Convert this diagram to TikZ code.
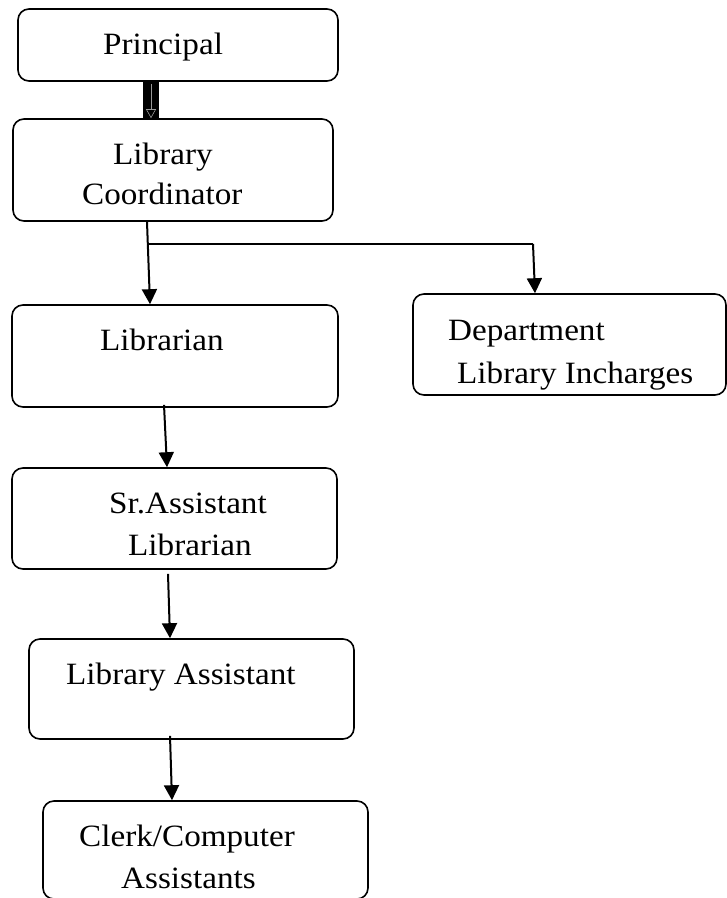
\documentclass[tikz,border=0pt]{standalone}
\usepackage{fontspec}
\setmainfont{Liberation Serif}[FakeStretch=1.07]
\usetikzlibrary{arrows.meta}
\begin{document}
\begin{tikzpicture}[x=1pt,y=-1pt,
  box/.style={draw, line width=1.6pt, rounded corners=11pt, inner sep=0pt},
  lbl/.style={anchor=base west, inner sep=0pt, font=\fontsize{31}{36}\selectfont},
  arr/.style={line width=2pt, -{Triangle[length=15pt,width=15pt]}},
  plain/.style={line width=2pt}]
\useasboundingbox (0,0) rectangle (727,898);
\fill[white] (0,0) rectangle (727,898);
% boxes
\node[box, minimum width=320pt, minimum height=72pt] (pr) at (178,45) {};
\node[box, minimum width=320pt, minimum height=102pt] (co) at (173,170) {};
\node[box, minimum width=326pt, minimum height=102pt] (li) at (175,356) {};
\node[box, minimum width=313pt, minimum height=101pt] (de) at (569.5,344.5) {};
\node[box, minimum width=325pt, minimum height=101pt] (sr) at (174.5,518.5) {};
\node[box, minimum width=325pt, minimum height=100pt] (la) at (191.5,689) {};
\node[box, minimum width=325pt, minimum height=98pt] (cl) at (205.5,850) {};
% texts
\node[lbl] (t1) at (103,54) {Principal};
\node[lbl] (t2) at (113,164) {Library};
\node[lbl] (t3) at (82,204) {Coordinator};
\node[lbl] (t4) at (100,350) {Librarian};
\node[lbl] (t5) at (448,340) {Department};
\node[lbl] (t6) at (457,383) {Library Incharges};
\node[lbl] (t7) at (109,513) {Sr.Assistant};
\node[lbl] (t8) at (128,555) {Librarian};
\node[lbl] (t9) at (66,684) {Library Assistant};
\node[lbl] (t10) at (79,846) {Clerk/Computer};
\node[lbl] (t11) at (121,888) {Assistants};
% thick connector principal -> coordinator
\draw[line width=16pt] ([xshift=-27pt]pr.south) -- ([xshift=-22pt]co.north);
\draw[white!60!black, line width=0.6pt, -{Triangle[open,length=9pt,width=10pt]}]
  ([xshift=-27pt,yshift=-2pt]pr.south) -- ([xshift=-22pt]co.north);
% branch
\coordinate (b1) at (149,244);
\coordinate (b2) at (533,244);
\draw[arr] ([xshift=-26pt]co.south) -- ([xshift=-25pt]li.north);
\draw[plain] (b1) -- (b2);
\draw[arr] (b2) -- ([xshift=-34.5pt]de.north);
\draw[arr] ([xshift=-11pt,yshift=3pt]li.south) -- ([xshift=-7.5pt]sr.north);
\draw[arr] ([xshift=-6.5pt,yshift=-4pt]sr.south) -- ([xshift=-21.5pt]la.north);
\draw[arr] ([xshift=-21.5pt,yshift=4pt]la.south) -- ([xshift=-33.5pt]cl.north);
\end{tikzpicture}
\end{document}
